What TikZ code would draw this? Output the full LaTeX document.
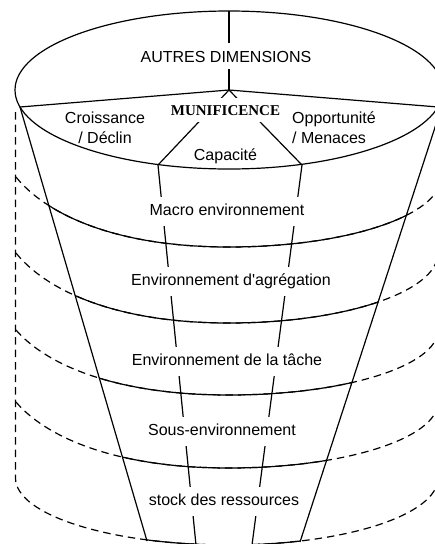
\documentclass[tikz,border=0pt]{standalone}
\usepackage{fontspec}
\setmainfont{Liberation Sans}
\newfontfamily\munifont{Liberation Serif}
\begin{document}
\begin{tikzpicture}[x=1pt,y=-1pt,
  ln/.style={line width=1.2pt, line join=round},
  dl/.style={line width=1.2pt, dash pattern=on 7.5pt off 5pt},
  lbl/.style={font=\fontsize{16}{20}\selectfont, inner sep=0pt},
  masklbl/.style={lbl, fill=white, text height=11pt, text depth=4pt, inner ysep=7pt, inner xsep=2pt},
]
\fill[white] (0,0) rectangle (435,544);
\useasboundingbox (0,0) rectangle (435,544);

% key points
\coordinate (C) at (229,90);
\coordinate (T) at (229,11);
\coordinate (P) at (229,90);
\coordinate (L) at (20,107);
\coordinate (R) at (438,107);
\coordinate (A) at (158,165);
\coordinate (B) at (302,165);
\coordinate (FR) at (440,112);
\coordinate (FLb) at (147,541);
\coordinate (FRb) at (300,542);
\coordinate (IA) at (196,545);
\coordinate (IB) at (252,545);
\coordinate (V1) at (15.5,112);
\coordinate (V2) at (15.5,478);

% dashed layers (outside parts)
\foreach \yc/\ry/\rr in {177/70/212, 253/70/209, 330/65/209, 402/66/209} {
  \draw[dl] (16,\yc) .. controls (44,\yc+0.5*\ry) and (111,\yc+\ry) .. (229,\yc+\ry)
    .. controls (229+0.552*\rr,\yc+\ry) and (229+\rr,\yc+0.552*\ry) .. (229+\rr,\yc);
}
\draw[dl] (V1) -- (V2) .. controls (15.5,515) and (111,545) .. (229,545)
  .. controls (344.4,545) and (438,515) .. (438,478);

% solid parts inside the funnel
\begin{scope}
  \clip (20,107) -- (440,112) -- (294,560) -- (152,560) -- cycle;
  \foreach \yc/\ry/\rr in {177/70/212, 253/70/209, 330/65/209, 402/66/209} {
    \draw[ln] (16,\yc) .. controls (44,\yc+0.5*\ry) and (111,\yc+\ry) .. (229,\yc+\ry)
      .. controls (229+0.552*\rr,\yc+\ry) and (229+\rr,\yc+0.552*\ry) .. (229+\rr,\yc);
  }
  \draw[ln] (15.5,478) .. controls (15.5,515) and (111,545) .. (229,545)
    .. controls (344.4,545) and (438,515) .. (438,478);
\end{scope}

% top ellipse and structure
\draw[ln] (C) ellipse [x radius=214pt, y radius=79pt];
\draw[ln] (L) -- (P) -- (R);
\draw[ln] (T) -- (P);
\draw[ln] (P) -- (A) -- (IA);
\draw[ln] (P) -- (B) -- (IB);
\draw[ln] (L) -- (FLb);
\draw[ln] (FR) -- (FRb);

% labels
\node[masklbl, text height=12pt, text depth=0pt, anchor=base] (autres) at (226,62) {AUTRES DIMENSIONS};
\node[masklbl, font=\munifont\bfseries\fontsize{15}{16}\selectfont, text height=11pt, text depth=0pt, inner ysep=6.5pt, anchor=base] (muni) at (225.5,115) {MUNIFICENCE};
\node[lbl, align=center, anchor=base] (croiss) at (105,143) {Croissance\\/ Déclin};
\node[lbl, align=left, anchor=base west] (oppor) at (292,143) {Opportunité\\/ Menaces};
\node[lbl, anchor=base] (capa) at (225.5,160) {Capacité};
\node[masklbl, anchor=base] (macro) at (227,215) {Macro environnement};
\node[masklbl, anchor=base] (aggr) at (231,285) {Environnement d\textquotesingle agrégation};
\node[masklbl, anchor=base] (tache) at (227,365) {Environnement de la tâche};
\node[masklbl, anchor=base] (sous) at (222,435) {Sous-environnement};
\node[masklbl, anchor=base] (stock) at (224,505) {stock des ressources};
\end{tikzpicture}
\end{document}
